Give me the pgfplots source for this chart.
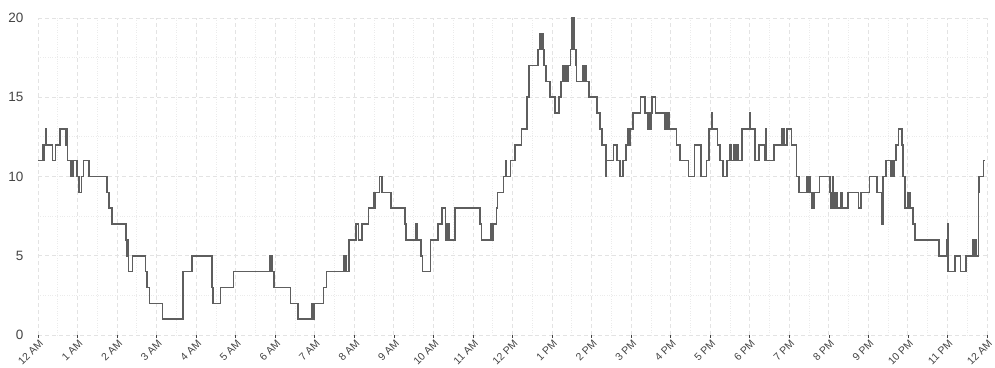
\documentclass[border=0pt]{standalone}
\usepackage{fontspec}
\setmainfont{Liberation Sans}
\usepackage{pgfplots}
\pgfplotsset{compat=1.18}
\definecolor{linec}{HTML}{5E5E5E}
\definecolor{gridc}{HTML}{E3E3E3}
\definecolor{gridm}{HTML}{EBEBEB}
\definecolor{txt}{HTML}{444444}
\begin{document}
\begin{tikzpicture}
\begin{axis}[
  scale only axis, width=949pt, height=317pt,
  at={(0,0)}, anchor=south west,
  xmin=0, xmax=24, ymin=0, ymax=20,
  axis line style={draw=none},
  xtick pos=bottom, ytick pos=left,
  xtick={0,1,...,24},
  xticklabels={12 AM,1 AM,2 AM,3 AM,4 AM,5 AM,6 AM,7 AM,8 AM,9 AM,10 AM,11 AM,12 PM,1 PM,2 PM,3 PM,4 PM,5 PM,6 PM,7 PM,8 PM,9 PM,10 PM,11 PM,12 AM},
  minor xtick={0.5,1.5,...,23.5},
  ytick={0,5,10,15,20},
  minor ytick={2.5,7.5,12.5,17.5},
  grid=both,
  major grid style={dash pattern=on 4pt off 3pt, gridc, line width=0.9pt},
  minor grid style={dotted, gridm, line width=0.8pt},
  tick align=outside,
  major tick length=3pt, minor tick length=0pt,
  xtick style={draw=txt, line width=0.6pt},
  ytick style={draw=none},
  /pgf/number format/assume math mode=true,
  x tick label style={rotate=45, anchor=north east, font=\fontsize{10.5}{12}\selectfont, text=txt, inner sep=1pt, xshift=1pt},
  y tick label style={font=\fontsize{13.5}{15}\selectfont, text=txt, xshift=-8pt},
]
\addplot[const plot, linec, line width=1.6pt] coordinates {
(0.00,11) (0.12,12) (0.14,11) (0.16,12) (0.19,13) (0.20,12) (0.37,11) (0.44,12) (0.55,13) (0.70,12) (0.72,13) (0.73,12)
(0.75,11) (0.84,10) (0.86,11) (0.88,10) (0.89,11) (0.98,10) (1.03,9) (1.10,10) (1.15,11) (1.29,10)
(1.74,9) (1.80,8) (1.87,7) (2.23,6) (2.25,5) (2.26,6) (2.28,5) (2.29,4) (2.39,5) (2.72,4) (2.74,3) (2.76,4) (2.77,3) (2.82,2)
(3.15,1) (3.66,4) (3.89,5) (4.40,3) (4.42,2) (4.62,3) (4.94,4) (5.87,5) (5.89,4) (5.91,5) (5.93,4) (5.97,3)
(6.39,2) (6.57,1) (6.92,2) (6.96,1) (6.99,2) (7.22,3) (7.30,4) (7.74,5) (7.79,4) (7.86,6) (8.04,7) (8.11,6) (8.19,7)
(8.36,8) (8.48,9) (8.50,8) (8.52,9) (8.64,10) (8.70,9) (8.92,8) (9.28,7) (9.31,6) (9.56,7) (9.60,6) (9.68,5) (9.72,4)
(9.93,6) (10.12,7) (10.22,8) (10.31,6) (10.35,7) (10.40,6) (10.55,8) (11.18,7) (11.22,6) (11.45,7) (11.48,6) (11.52,7)
(11.60,8) (11.62,9) (11.77,10) (11.82,11) (11.84,10) (11.95,11) (12.06,12) (12.23,13) (12.36,15) (12.42,17)
(12.65,18) (12.68,19) (12.71,18) (12.74,19) (12.77,18) (12.80,17) (12.85,16) (12.95,15) (13.08,14) (13.18,15)
(13.22,16) (13.27,17) (13.30,16) (13.33,17) (13.36,16) (13.40,17) (13.47,18) (13.50,20) (13.56,18) (13.60,17)
(13.62,16) (13.77,17) (13.80,16) (13.83,17) (13.86,16) (13.94,15) (14.14,14) (14.21,13) (14.27,12) (14.37,10)
(14.38,11) (14.55,12) (14.64,11) (14.72,10) (14.80,11) (14.87,12) (14.92,13) (14.95,12) (14.97,13) (15.04,14)
(15.24,15) (15.35,14) (15.41,13) (15.45,14) (15.48,13) (15.51,14) (15.53,15) (15.62,14) (15.86,13) (15.89,14)
(15.92,13) (15.95,14) (15.97,13) (16.15,12) (16.24,11) (16.45,10) (16.60,12) (16.76,10) (16.91,11) (16.97,13)
(17.03,14) (17.04,13) (17.18,12) (17.25,11) (17.33,10) (17.42,11) (17.50,12) (17.52,11) (17.60,12) (17.62,11)
(17.68,12) (17.70,11) (17.80,13) (17.99,14) (18.00,13) (18.13,11) (18.24,12) (18.37,11) (18.40,13) (18.41,11)
(18.62,12) (18.81,13) (18.87,12) (18.94,13) (19.06,12) (19.18,10) (19.25,9) (19.44,10) (19.47,9) (19.50,10)
(19.52,9) (19.57,8) (19.62,9) (19.76,10) (20.03,9) (20.06,8) (20.09,10) (20.12,8) (20.15,9) (20.20,8)
(20.30,9) (20.33,8) (20.49,9) (20.75,8) (20.81,9) (21.03,10) (21.22,9) (21.34,7) (21.37,10) (21.44,11)
(21.57,10) (21.60,11) (21.63,10) (21.66,11) (21.70,12) (21.76,13) (21.85,12) (21.88,10) (21.93,8) (21.99,9)
(22.02,8) (22.05,9) (22.07,8) (22.13,7) (22.18,6) (22.79,5) (22.98,6) (23.00,7) (23.01,4) (23.19,5) (23.33,4)
(23.47,5) (23.64,6) (23.67,5) (23.70,6) (23.73,5) (23.78,9) (23.80,10) (23.91,11) (23.96,11)
};
\end{axis}
\pgfresetboundingbox
\path[use as bounding box] (-38pt,-32pt) rectangle (957pt,335pt);
\end{tikzpicture}
\end{document}
